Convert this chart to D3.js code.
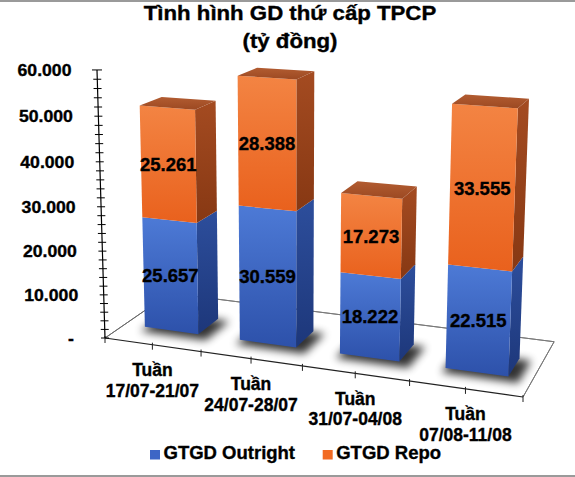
<!DOCTYPE html>
<html>
<head>
<meta charset="utf-8">
<title>Tình hình GD thứ cấp TPCP</title>
<script src="https://cdn.jsdelivr.net/npm/d3@7/dist/d3.min.js"></script>
<style>
  body { margin: 0; background: #fff; }
  text { font-family: "Liberation Sans", Arial, sans-serif; font-weight: bold; fill: #000; stroke: #000; stroke-width: 0.35px; }
</style>
</head>
<body>
<script>
// du lieu doc tu hinh
var categories = ["Tuần 17/07-21/07", "Tuần 24/07-28/07", "Tuần 31/07-04/08", "Tuần 07/08-11/08"];
var outright = [25657, 30559, 18222, 22515];
var repo = [25261, 28388, 17273, 33555];
var seriesNames = ["GTGD Outright", "GTGD Repo"];
var yTicks = [0, 10000, 20000, 30000, 40000, 50000, 60000];

var width = 575, height = 477;

// phep chieu phoi canh 3 diem (3 diem tu)
var O = [105, 338], VX = [-3458, -165], VZ = [842, -170], VY = [292, 6600];
var ka = -0.105, kb = 0.0967, kc = -0.04105;
function proj(X, Y, Z) {
    var p = ka * X, q = kb * Z, r = kc * Y;
    var den = 1 + p + q + r;
    return [(p * VX[0] + q * VZ[0] + r * VY[0] + O[0]) / den,
            (p * VX[1] + q * VZ[1] + r * VY[1] + O[1]) / den];
}

var x = d3.scaleBand().domain(categories).range([0, 1]).paddingInner(0.43).paddingOuter(0.215);
var y = d3.scaleLinear().domain([0, 60000]).range([0, 1]);
var zFront = 0.29, zBack = 0.62;

var vn = d3.formatLocale({decimal: ",", thousands: ".", grouping: [3], currency: ["", ""]});
var fmt = vn.format(",.0f");

var svg = d3.select("body").append("svg")
    .attr("width", width)
    .attr("height", height);

var defs = svg.append("defs");
function grad(id, c1, c2) {
    var g = defs.append("linearGradient").attr("id", id)
        .attr("x1", 0).attr("y1", 0).attr("x2", 0).attr("y2", 1);
    g.append("stop").attr("offset", "0%").attr("stop-color", c1);
    g.append("stop").attr("offset", "100%").attr("stop-color", c2);
}
grad("blueFront", "#4D7AD6", "#2D51AA");
grad("blueSide", "#2D4E9C", "#1D377A");
grad("orangeFront", "#F38443", "#E9611D");
grad("orangeSide", "#A44B21", "#873813");
grad("orangeTop", "#B25C31", "#9C4922");
defs.append("filter").attr("id", "shadow").attr("x", "-50%").attr("y", "-50%")
    .attr("width", "200%").attr("height", "200%")
    .append("feGaussianBlur").attr("stdDeviation", 4);

// vien xam tren/duoi
svg.append("rect").attr("x", 0).attr("y", 0).attr("width", width).attr("height", 2).attr("fill", "#9a9a9a");
svg.append("rect").attr("x", 0).attr("y", height - 2).attr("width", width).attr("height", 2).attr("fill", "#9a9a9a");

// tieu de
var title = svg.append("g").attr("transform", "translate(290,20) scale(1.14,1)");
title.append("text").attr("text-anchor", "middle").attr("font-size", "19.5px").text("Tình hình GD thứ cấp TPCP");
title.append("text").attr("text-anchor", "middle").attr("y", 28).attr("font-size", "19.5px").text("(tỷ đồng)");

var line = d3.line();
function face(pts) {
    return line(pts.map(function(p){ return proj(p[0], p[1], p[2]); })) + "Z";
}

// san
var floor = svg.append("g");
floor.append("path").attr("d", face([[0,0,1],[1,0,1]]))
    .attr("fill", "none").attr("stroke", "#7a7a7a").attr("stroke-width", 1);
floor.append("path").attr("d", face([[1,0,1],[1,0,0]]))
    .attr("fill", "none").attr("stroke", "#7a7a7a").attr("stroke-width", 1);
floor.append("path").attr("d", face([[0,0,0],[0,0,1]]))
    .attr("fill", "none").attr("stroke", "#6b6b6b").attr("stroke-width", 1);
floor.append("path").attr("d", face([[0,0,0],[1,0,0]]))
    .attr("fill", "none").attr("stroke", "#222").attr("stroke-width", 1.2);
d3.range(0, 9).forEach(function(k){
    var p = proj(k / 8, 0, 0);
    floor.append("line").attr("x1", p[0]).attr("y1", p[1] - 2).attr("x2", p[0]).attr("y2", p[1] + 5)
        .attr("stroke", "#222").attr("stroke-width", 1);
});

// bong
categories.forEach(function(c, i){
    var x0 = x(c) - 0.01, x1 = x(c) + x.bandwidth() + 0.02;
    svg.append("path")
        .attr("d", face([[x0,0,zFront-0.04],[x1,0,zFront-0.04],[x1,0,zBack+0.03],[x0,0,zBack+0.03]]))
        .attr("fill", "#000").attr("opacity", 0.8).attr("filter", "url(#shadow)")
        .attr("transform", "translate(2,3)");
});

// cot
var bars = svg.append("g");
categories.forEach(function(c, i){
    var x0 = x(c), x1 = x(c) + x.bandwidth();
    var segs = [
        {v0: 0, v1: outright[i], front: "url(#blueFront)", side: "url(#blueSide)"},
        {v0: outright[i], v1: outright[i] + repo[i], front: "url(#orangeFront)", side: "url(#orangeSide)"}
    ];
    segs.forEach(function(s, j){
        var y0 = y(s.v0), y1 = y(s.v1);
        bars.append("path").attr("d", face([[x1,y0,zFront],[x1,y0,zBack],[x1,y1,zBack],[x1,y1,zFront]]))
            .attr("fill", s.side);
        bars.append("path").attr("d", face([[x0,y0,zFront],[x1,y0,zFront],[x1,y1,zFront],[x0,y1,zFront]]))
            .attr("fill", s.front);
        if (j === segs.length - 1) {
            bars.append("path").attr("d", face([[x0,y1,zFront],[x1,y1,zFront],[x1,y1,zBack],[x0,y1,zBack]]))
                .attr("fill", "url(#orangeTop)");
        }
    });
    segs.forEach(function(s){
        var p = proj(x0 + x.bandwidth() / 2, y((s.v0 + s.v1) / 2), zFront);
        bars.append("text").attr("x", p[0]).attr("y", p[1]).attr("dy", "0.36em")
            .attr("text-anchor", "middle").attr("font-size", "18.5px")
            .text(fmt(s.v1 - s.v0));
    });
});

// truc tung
var axis = svg.append("g");
var a0 = proj(0, 0, 0), a1 = proj(0, 1, 0);
axis.append("line").attr("x1", a0[0]).attr("y1", a0[1]).attr("x2", a1[0]).attr("y2", a1[1])
    .attr("stroke", "#000").attr("stroke-width", 1.2);
d3.range(0, 60001, 2000).forEach(function(v){
    var p = proj(0, y(v), 0);
    var w = v === 60000 ? 5 : 4;
    axis.append("line").attr("x1", p[0] - w).attr("y1", p[1]).attr("x2", p[0] + w).attr("y2", p[1])
        .attr("stroke", "#000").attr("stroke-width", 1);
});
yTicks.forEach(function(v){
    var p = proj(0, y(v), 0);
    var g = axis.append("g").attr("transform", "translate(" + (p[0] - (v === 0 ? 31 : 25.5)) + "," + p[1] + ") scale(1.07,1)");
    g.append("text").attr("text-anchor", "end").attr("dy", "0.36em").attr("font-size", "16.5px")
        .text(v === 0 ? "-" : fmt(v));
});

// nhan danh muc
categories.forEach(function(c){
    var p = proj(x(c) + x.bandwidth() / 2, 0, 0);
    var parts = c.split(" ");
    var t = svg.append("text").attr("text-anchor", "middle").attr("font-size", "17.5px");
    t.append("tspan").attr("x", p[0]).attr("y", p[1] + 31.5).text(parts[0]);
    t.append("tspan").attr("x", p[0]).attr("y", p[1] + 52).text(parts.slice(1).join(" "));
});

// chu giai
var legendColors = ["#3D66C6", "#F26B23"];
var legendX = [150, 322.7];
seriesNames.forEach(function(n, i){
    svg.append("rect").attr("x", legendX[i]).attr("y", 450).attr("width", 10).attr("height", 9.5)
        .attr("fill", legendColors[i]);
    svg.append("text").attr("x", legendX[i] + 13.5).attr("y", 459.3).attr("font-size", "18.5px").text(n);
});
</script>
</body>
</html>
